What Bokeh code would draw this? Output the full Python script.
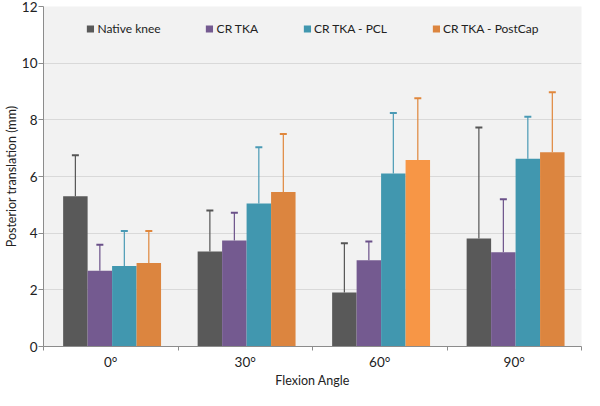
from bokeh.plotting import figure
from bokeh.models import ColumnDataSource, FixedTicker, Whisker, TeeHead, Legend, LegendItem, Range1d
from bokeh.embed import file_html
from bokeh.resources import INLINE

angles = ["0°", "30°", "60°", "90°"]
series = ["Native knee", "CR TKA", "CR TKA - PCL", "CR TKA - PostCap"]

native = [5.30, 3.35, 1.91, 3.81]
native_sd = [1.45, 1.45, 1.73, 3.92]
cr_tka = [2.67, 3.74, 3.04, 3.33]
cr_tka_sd = [0.92, 0.98, 0.67, 1.87]
cr_pcl = [2.84, 5.05, 6.11, 6.63]
cr_pcl_sd = [1.24, 1.98, 2.13, 1.48]
cr_postcap = [2.95, 5.45, 6.58, 6.86]
cr_postcap_sd = [1.13, 2.05, 2.18, 2.11]

values = [native, cr_tka, cr_pcl, cr_postcap]
sds = [native_sd, cr_tka_sd, cr_pcl_sd, cr_postcap_sd]
colors = [
    ["#595959"] * 4,
    ["#745a90"] * 4,
    ["#4197af"] * 4,
    ["#dc853f", "#dc853f", "#f79646", "#dc853f"],
]
whisker_colors = ["#555555", "#6a5089", "#4a9ab5", "#e0873c"]

FONT = "Lato"

p = figure(width=584, height=390, output_backend="svg", toolbar_location=None,
           x_range=Range1d(0, 4), y_range=Range1d(0, 12),
           min_border_left=42, min_border_right=3, min_border_top=6, min_border_bottom=34)

p.background_fill_color = "#f2f2f2"
p.border_fill_color = "white"
p.outline_line_color = None

p.ygrid.grid_line_color = "#d9d9d9"
p.ygrid.ticker = FixedTicker(ticks=[2, 4, 6, 8, 10, 12])
p.xgrid.grid_line_color = None

bar_w = 0.182
offsets = [-0.273, -0.091, 0.091, 0.273]
center = 0.51

items = []
for k in range(4):
    xs = [i + center + offsets[k] for i in range(len(angles))]
    upper = [v + s for v, s in zip(values[k], sds[k])]
    src = ColumnDataSource(dict(x=xs, top=values[k], upper=upper, color=colors[k]))
    r = p.vbar(x="x", top="top", width=bar_w, bottom=0, source=src,
               fill_color="color", line_color=None)
    w = Whisker(base="x", lower="top", upper="upper", source=src, dimension="height",
                line_color=whisker_colors[k], line_width=1.2,
                upper_head=TeeHead(size=7, line_color=whisker_colors[k], line_width=2),
                lower_head=None)
    p.add_layout(w)
    items.append(LegendItem(label=series[k], renderers=[r]))

legend = Legend(items=items, orientation="horizontal", location="top_center",
                background_fill_alpha=0, border_line_color=None,
                glyph_width=9, glyph_height=9, label_standoff=3, spacing=44,
                label_text_font=FONT, label_text_font_size="12px", label_text_color="#222222",
                padding=4, margin=15)
p.add_layout(legend, "center")

# x axis
p.xaxis.ticker = FixedTicker(ticks=[i + 0.5 for i in range(len(angles))],
                             minor_ticks=list(range(len(angles) + 1)))
p.xaxis.major_label_overrides = {i + 0.5: a for i, a in enumerate(angles)}
p.xaxis.major_tick_out = 0
p.xaxis.major_tick_in = 0
p.xaxis.minor_tick_out = 4
p.xaxis.minor_tick_in = 0
p.xaxis.minor_tick_line_color = "#8c8c8c"
p.xaxis.axis_line_color = "#8c8c8c"
p.xaxis.axis_label = "Flexion Angle"

# y axis
p.yaxis.ticker = FixedTicker(ticks=[0, 2, 4, 6, 8, 10, 12])
p.yaxis.major_tick_out = 5
p.yaxis.major_tick_in = 0
p.yaxis.minor_tick_line_color = None
p.yaxis.major_tick_line_color = "#8c8c8c"
p.yaxis.axis_line_color = "#8c8c8c"
p.yaxis.axis_label = "Posterior translation (mm)"

for ax in (p.xaxis[0], p.yaxis[0]):
    ax.major_label_text_font = FONT
    ax.major_label_text_font_size = "13.5px"
    ax.major_label_text_color = "#222222"
    ax.axis_label_text_font = FONT
    ax.axis_label_text_font_size = "12.5px"
    ax.axis_label_text_font_style = "normal"
    ax.axis_label_text_color = "#222222"

p.xaxis.major_label_standoff = 3
p.xaxis.axis_label_standoff = 0
p.yaxis.major_label_standoff = 1
p.yaxis.axis_label_standoff = 0

open("out.html", "w").write(file_html(p, INLINE))
